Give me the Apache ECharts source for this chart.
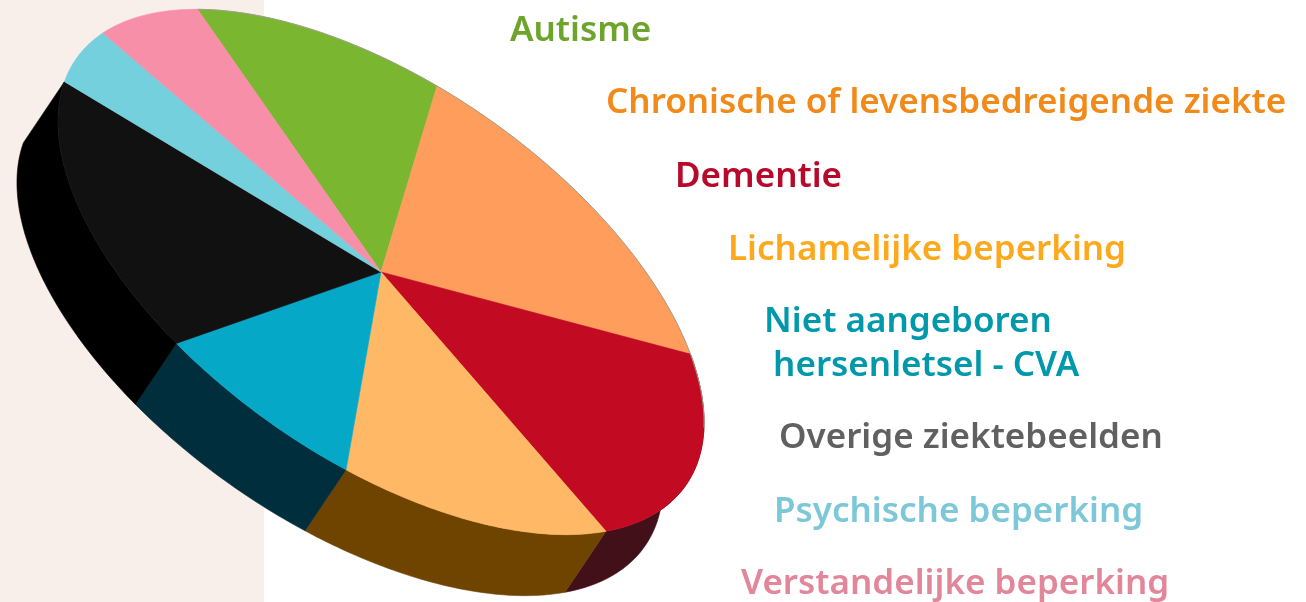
<!DOCTYPE html>
<html><head><meta charset="utf-8">
<style>html,body{margin:0;padding:0;background:#fff}#c{width:1306px;height:602px}</style>
<script src="https://cdn.jsdelivr.net/npm/echarts@6/dist/echarts.min.js"></script>
</head><body><div id="c"></div>
<script>
const categories = ['Autisme','Chronische of levensbedreigende ziekte','Dementie','Lichamelijke beperking','Niet aangeboren\n hersenletsel - CVA','Overige ziektebeelden','Psychische beperking','Verstandelijke beperking'];
const shares = [12.4,17.6,17.4,14.0,9.2,17.3,5.3,6.9];
const topColors = ['#7ab62f','#ff9d5c','#c30a23','#ffb865','#06a8c8','#111111','#74d0dc','#f78fa8'];
const sideColors = ['transparent','transparent','#421018','#6e4400','#012e3d','#000000','transparent','transparent'];
const labelColors = ['#6da42b','#f28a1a','#b9092a','#fda91e','#0098ab','#606060','#7cc8d8','#e2869a'];
const labelLeft = [510,606,675,728,764,779,774,741];
const labelMid = [31,103,177,250,344,438,512,584];

const total = shares.reduce((a,b)=>a+b,0);
const START = 216, CX = 381, CY = 272, A = 372, B = 187, TILT = 35*Math.PI/180, DX = -41, DY = 61, CLIP = 708;
const rim = (deg, ox=0, oy=0) => {
  const t = deg*Math.PI/180, u = A*Math.cos(t), v = B*Math.sin(t);
  return [Math.min(CLIP, CX+u*Math.cos(TILT)-v*Math.sin(TILT)+ox), CY+u*Math.sin(TILT)+v*Math.cos(TILT)+oy];
};
const range = i => {
  let s = START; for (let k=0;k<i;k++) s += shares[k]/total*360;
  return [s, s+shares[i]/total*360];
};
const arc = (a,b,ox,oy) => { const p=[]; const n=Math.max(2,Math.ceil(b-a)); for(let k=0;k<=n;k++) p.push(rim(a+(b-a)*k/n,ox,oy)); return p; };

const sideItem = (params) => {
  const i = params.dataIndex, [a,b] = range(i);
  const pts = arc(a,b,0,0).concat(arc(a,b,DX,DY).reverse());
  return {type:'polygon',shape:{points:pts},style:{fill:sideColors[i],stroke:sideColors[i],lineWidth:0.6}};
};
const topItem = (params) => {
  const i = params.dataIndex, [a,b] = range(i);
  const children = [{type:'polygon',shape:{points:[[CX,CY]].concat(arc(a,b,0,0))},style:{fill:topColors[i],stroke:topColors[i],lineWidth:0.6}}];
  const lo = Math.max(a,180), hi = Math.min(b,342);
  if (hi>lo) children.push({type:'polyline',shape:{points:arc(lo,hi,0,0)},style:{fill:null,stroke:'#a09f90',lineWidth:1}});
  return {type:'group',children};
};
const chart = echarts.init(document.getElementById('c'),null,{renderer:'canvas'});
chart.setOption({
  animation:false,
  backgroundColor:'#ffffff',
  graphic:[
    {type:'rect',z:-1,silent:true,shape:{x:0,y:0,width:264,height:602},style:{fill:'#f8eeea'}},
    ...categories.map((c,i)=>({type:'text',z:10,x:labelLeft[i],y:labelMid[i],style:{text:c,fill:labelColors[i],font:'600 35px "Noto Sans"',textVerticalAlign:'middle',lineHeight:44}}))
  ],
  series:[
    {type:'custom',coordinateSystem:'none',z:1,silent:true,data:shares,renderItem:sideItem},
    {type:'custom',coordinateSystem:'none',z:2,silent:true,data:shares,renderItem:topItem}
  ]
});
</script></body></html>
